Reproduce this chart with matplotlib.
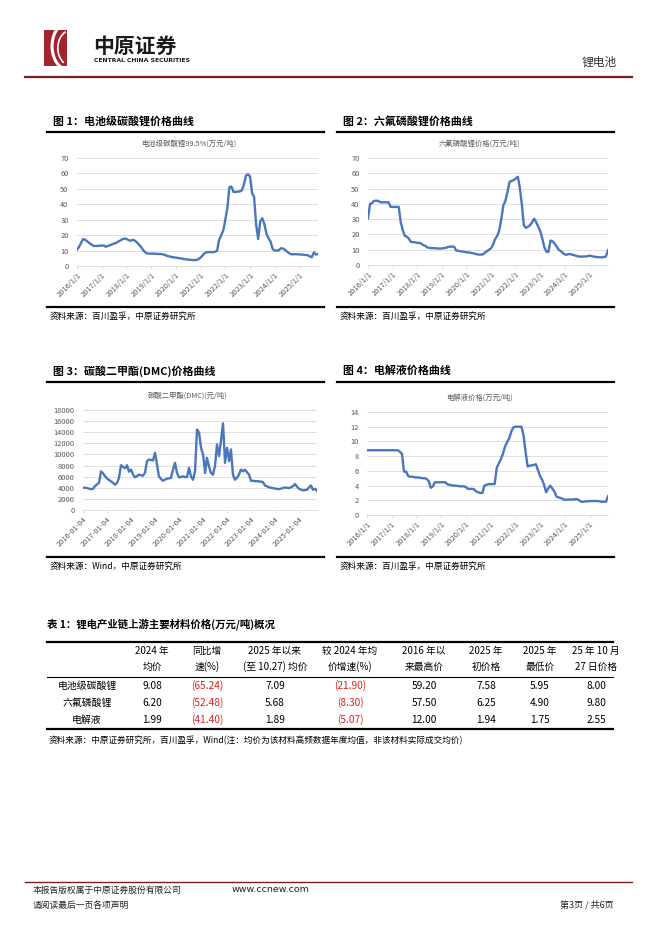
import matplotlib
matplotlib.use('Agg')
import matplotlib.pyplot as plt
import pandas as pd
import numpy as np
from matplotlib.lines import Line2D
from matplotlib.patches import Rectangle, Arc

plt.rcParams['font.family'] = ['Noto Sans CJK SC', 'DejaVu Sans']

W, H = 662, 936

# monthly readings, 2016-01 .. 2025-10
months = pd.date_range('2016-01-01', periods=118, freq='MS')

# 电池级碳酸锂 (万元/吨)
li2co3 = [10.5, 12.5, 15, 17.5, 17, 16, 14.8, 14, 13, 13, 13, 13.2,
          13.2, 13.3, 12.5, 13, 13.5, 14, 14.5, 15, 15.8, 16.5, 17.3, 17.8,
          17.5, 16.8, 16.3, 17, 16.5, 15.5, 14, 12.6, 10.5, 9, 8.2, 8.0,
          8, 8, 7.9, 7.8, 7.8, 7.7, 7.5, 7, 6.5, 6.2, 5.8, 5.6,
          5.4, 5.2, 5.0, 4.8, 4.5, 4.3, 4.1, 4.0, 3.9, 3.8, 3.9, 4.5,
          5.5, 7, 8.3, 9, 9, 9, 9, 9.2, 9.8, 17, 20, 23,
          30, 38, 51, 51.5, 48, 48, 48.2, 48.3, 49, 52.5, 58.5, 59.5,
          58, 47, 45, 26.7, 17.5, 29, 31, 27, 21, 18, 15.8, 11,
          10, 10, 10.2, 11.5, 11.3, 10.5, 9.3, 8.3, 7.6, 7.6, 7.7, 7.6,
          7.5, 7.4, 7.3, 7.1, 7.0, 6.2, 5.7, 8.8, 7.4, 7.9]

# 六氟磷酸锂 (万元/吨)
lipf6 = [30.5, 40, 40.5, 42, 42, 42, 41, 41, 41, 41, 41, 38,
         38, 38, 38, 38, 28, 22.5, 19, 18.5, 17, 15, 15, 14.8,
         14.5, 14.5, 14, 13, 12.5, 11.5, 11.2, 11, 11, 11, 10.8, 10.8,
         10.8, 11, 11.2, 11.8, 12, 12, 12, 9.5, 9.3, 9, 8.8, 8.6,
         8.3, 8.2, 8, 7.7, 7.5, 7, 6.8, 6.8, 7, 8, 9, 10,
         11, 13.5, 17, 19, 22.5, 30, 39, 42, 48, 54.4, 55, 55.5,
         56.6, 57.7, 51, 40, 26, 24.3, 25, 26, 28, 30.3, 28, 25,
         22, 17, 11.6, 8.8, 8.5, 16, 15.5, 14, 12, 10, 9, 8,
         6.8, 6.8, 7.2, 7, 6.6, 6.2, 5.8, 5.5, 5.5, 5.5, 5.6, 5.8,
         6.1, 5.8, 5.5, 5.3, 5.2, 5.0, 5.0, 5.2, 5.6, 9.8]

# 碳酸二甲酯 DMC (元/吨)
dmc = [4050, 4000, 3950, 3850, 3750, 3800, 4300, 4600, 4900, 6950, 6600, 6100,
       5650, 5400, 5150, 4900, 4550, 4850, 5760, 8050, 7760, 7500, 8050, 6900,
       7270, 6360, 5880, 6100, 6360, 6250, 6180, 6670, 8790, 9090, 9000, 8900,
       10300, 8180, 6060, 5600, 5270, 5450, 5640, 5700, 5760, 7270, 8480, 6670,
       5880, 5950, 6060, 5950, 5880, 7580, 6060, 5450, 6970, 14500, 13940, 11200,
       10000, 6670, 9400, 7880, 6670, 6360, 7880, 11800, 9700, 12500, 15600, 8500,
       11200, 8790, 10900, 6360, 5450, 5800, 6360, 7270, 6970, 7270, 6800, 6360,
       5270, 5250, 5200, 5200, 5150, 5100, 5030, 4420, 4250, 4100, 4000, 3940,
       3850, 3800, 3760, 3850, 3950, 4060, 4000, 3940, 4100, 4300, 4670, 4200,
       3820, 3650, 3520, 3580, 3640, 4060, 4420, 3640, 3820, 3450]

# 电解液 (万元/吨)
electrolyte = [8.8] * 12 + [
    8.8, 8.8, 8.8, 8.8, 8.6, 8.3, 5.9, 5.9, 5.3, 5.2, 5.2, 5.15,
    5.1, 5.1, 5.05, 5.0, 5.0, 4.9, 4.6, 3.7, 3.9, 4.45, 4.45, 4.45,
    4.45, 4.45, 4.45, 4.2, 4.1, 4.05, 4.0, 4.0, 3.95, 3.9, 3.9, 3.9,
    3.8, 3.55, 3.55, 3.55, 3.5, 3.2, 3.1, 3.0, 3.0, 4.0, 4.1, 4.2,
    4.2, 4.2, 4.2, 6.4, 7.0, 7.6, 8.3, 9.3, 9.9, 10.4, 11.3, 11.9,
    12, 12, 12, 12, 10.9, 8.6, 6.6, 6.7, 6.75, 6.8, 6.9, 6.1,
    5.3, 4.8, 4.1, 3.1, 3.6, 4.0, 3.6, 3.2, 2.5, 2.4, 2.3, 2.2,
    2.05, 2.1, 2.1, 2.1, 2.1, 2.15, 2.15, 2.0, 1.8, 1.8, 1.85, 1.85,
    1.9, 1.9, 1.9, 1.9, 1.9, 1.85, 1.8, 1.8, 1.8, 2.55]

years = list(range(2016, 2026))

# table 1
row_names = ['电池级碳酸锂', '六氟磷酸锂', '电解液']
col_heads = [('2024 年', '均价'), ('同比增', '速(%)'), ('2025 年以来', '(至 10.27) 均价'),
             ('较 2024 年均', '价增速(%)'), ('2016 年以', '来最高价'), ('2025 年', '初价格'),
             ('2025 年', '最低价'), ('25 年 10 月', '27 日价格')]
avg_2024 = [9.08, 6.20, 1.99]
yoy_2024 = [-65.24, -52.48, -41.40]
avg_2025 = [7.09, 5.68, 1.89]
vs_2024 = [-21.90, -8.30, -5.07]
high_2016 = [59.20, 57.50, 12.00]
open_2025 = [7.58, 6.25, 1.94]
low_2025 = [5.95, 4.90, 1.75]
price_1027 = [8.00, 9.80, 2.55]

BLUE = '#4a76bd'
GREY = '#595959'
DARKRED = '#7d1f1f'

fig = plt.figure(figsize=(W / 100, H / 100), dpi=100)


def box(x0, y0, x1, y1):
    return [x0 / W, 1 - y1 / H, (x1 - x0) / W, (y1 - y0) / H]


def ftext(x, y, s, **kw):
    kw.setdefault('va', 'center')
    fig.text(x / W, 1 - y / H, s, **kw)


def hline(x0, x1, y, lw, color='black'):
    fig.add_artist(Line2D([x0 / W, x1 / W], [1 - y / H, 1 - y / H], lw=lw, color=color))


def price_chart(rect, values, ymax, ystep, title, title_x, title_y, dash=False):
    ax = fig.add_axes(box(*rect))
    ax.plot(months, values, color=BLUE, lw=1.7, solid_joinstyle='round')
    ax.set_ylim(0, ymax)
    ax.set_yticks(np.arange(0, ymax + 1, ystep))
    ax.set_xlim(months[0], months[-1])
    ax.grid(axis='y', color='#d9d9d9', lw=0.6)
    ax.set_axisbelow(True)
    for s in ['top', 'right', 'left']:
        ax.spines[s].set_visible(False)
    ax.spines['bottom'].set_color('#d9d9d9')
    ax.spines['bottom'].set_linewidth(0.6)
    if dash:
        ticks = [pd.Timestamp(f'{y}-01-04') for y in years]
        labels = [f'{y}-01-04' for y in years]
    else:
        ticks = [pd.Timestamp(f'{y}-01-01') for y in years]
        labels = [f'{y}/1/1' for y in years]
    ax.set_xticks(ticks)
    ax.set_xticklabels(labels, rotation=45, ha='right', rotation_mode='anchor')
    ax.tick_params(axis='y', length=0, labelsize=5.4, colors=GREY, pad=6)
    ax.tick_params(axis='x', length=2, width=0.6, color='#d9d9d9', labelsize=5.4,
                   labelcolor=GREY, pad=2)
    ftext(title_x, title_y, title, ha='center', fontsize=5.3, color=GREY)
    return ax


def figure_block(x0, x1, y_head, head, y_src, src):
    ftext(x0 + 6, y_head - 11, head, fontsize=7.9, fontweight='bold')
    hline(x0, x1, y_head, 1.6)
    hline(x0, x1, y_src, 1.6)
    ftext(x0 + 3, y_src + 9, src, fontsize=6.2)


# header
logo = fig.add_axes(box(44, 30, 67, 66))
logo.set_xlim(0, 1)
logo.set_ylim(0, 1)
logo.axis('off')
logo.add_patch(Rectangle((0, 0), 1, 1, color='#a3242a'))
logo.add_patch(Arc((1.05, 0.55), 1.4, 1.3, theta1=110, theta2=250, color='white', lw=2.2))
logo.add_patch(Arc((1.2, 0.5), 1.2, 1.0, theta1=120, theta2=230, color='white', lw=1.2))
ftext(93, 46, '中原证券', fontsize=15, fontweight='bold', color='#1a1a1a')
ftext(94, 61, 'CENTRAL CHINA SECURITIES', fontsize=4.4, fontweight='bold',
      color='#1a1a1a', family='DejaVu Sans')
ftext(617, 62, '锂电池', ha='right', fontsize=8.5, color='#333333')
hline(25, 632, 77, 1.6, DARKRED)

# figures 1-4
figure_block(47, 324, 132, '图 1：电池级碳酸锂价格曲线', 307, '资料来源：百川盈孚，中原证券研究所')
figure_block(337, 614, 132, '图 2：六氟磷酸锂价格曲线', 307, '资料来源：百川盈孚，中原证券研究所')
figure_block(47, 324, 382, '图 3：碳酸二甲酯(DMC)价格曲线', 557, '资料来源：Wind，中原证券研究所')
figure_block(337, 614, 382, '图 4：电解液价格曲线', 557, '资料来源：百川盈孚，中原证券研究所')

price_chart((77, 158, 318, 266), li2co3, 70, 10, '电池级碳酸锂99.5%(万元/吨)', 189, 144)
price_chart((368, 158, 608, 265), lipf6, 70, 10, '六氟磷酸锂价格(万元/吨)', 479, 144)
price_chart((83, 410, 317, 510), dmc, 18000, 2000, '碳酸二甲酯(DMC)(元/吨)', 188, 396, dash=True)
price_chart((367, 412, 608, 515), electrolyte, 14, 2, '电解液价格(万元/吨)', 479, 398)

# table 1
ftext(47, 624, '表 1：锂电产业链上游主要材料价格(万元/吨)概况', fontsize=7.5, fontweight='bold')
hline(47, 613, 641.5, 1.6)
hline(47, 613, 676.5, 0.8)
hline(47, 613, 729, 1.6)
col_x = [152, 207, 275, 350, 424, 486, 540, 596]
for cx, (h1, h2) in zip(col_x, col_heads):
    ftext(cx, 651, h1, ha='center', fontsize=7)
    ftext(cx, 667, h2, ha='center', fontsize=7)

columns = [avg_2024, yoy_2024, avg_2025, vs_2024, high_2016, open_2025, low_2025, price_1027]
row_y = [686, 703, 720]
for i, name in enumerate(row_names):
    ftext(87, row_y[i], name, ha='center', fontsize=7.1)
    for cx, col in zip(col_x, columns):
        v = col[i]
        if v < 0:
            ftext(cx, row_y[i], f'({-v:.2f})', ha='center', fontsize=7.3, color='#e02020')
        else:
            ftext(cx, row_y[i], f'{v:.2f}', ha='center', fontsize=7.3)
ftext(49, 740, '资料来源：中原证券研究所，百川盈孚，Wind(注：均价为该材料高频数据年度均值，非该材料实际成交均价)',
      fontsize=6.2)

# footer
hline(25, 632, 882, 1.0, DARKRED)
ftext(33, 890, '本报告版权属于中原证券股份有限公司', fontsize=6.3, color='#222222')
ftext(232, 890, 'www.ccnew.com', fontsize=6.8, color='#222222', family='DejaVu Sans')
ftext(33, 905, '请阅读最后一页各项声明', fontsize=6.3, color='#222222')
ftext(614, 905, '第3页 / 共6页', ha='right', fontsize=6.5, color='#222222')

fig.savefig('out.png', dpi=100, facecolor='white')
